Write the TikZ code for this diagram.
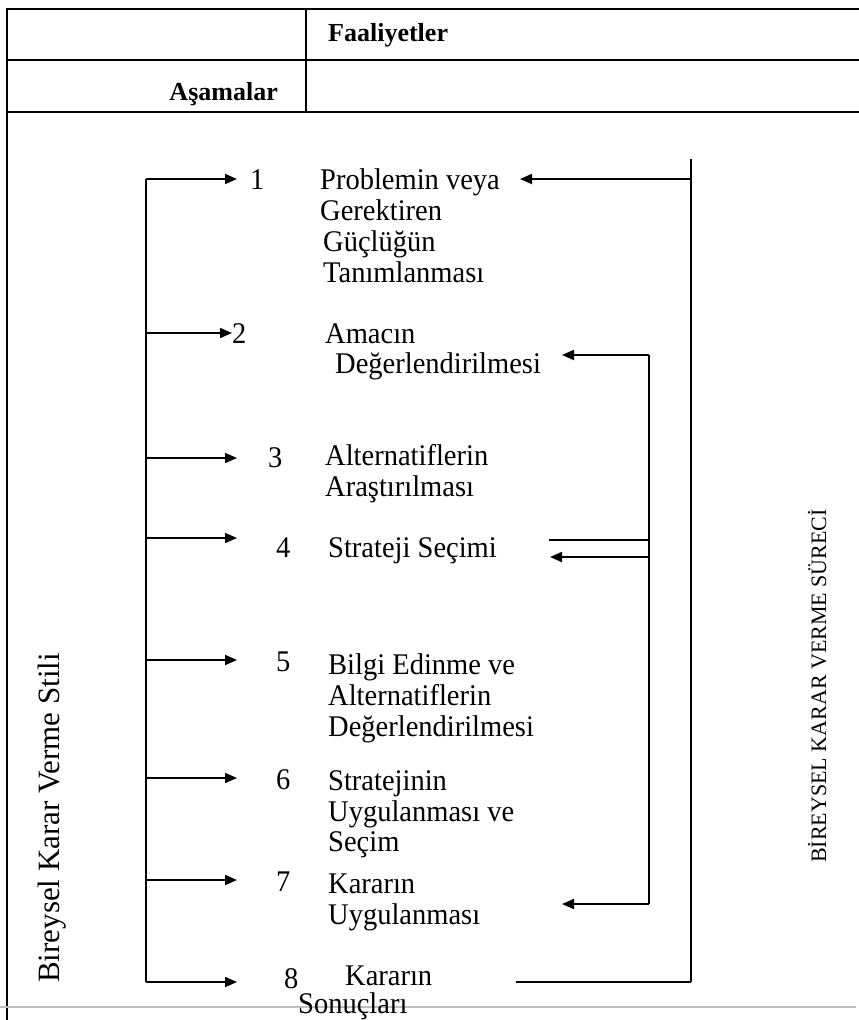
\documentclass[tikz,border=0pt]{standalone}
\usepackage{fontspec}
\setmainfont{Liberation Serif}[FakeStretch=0.95]
\newfontfamily\plainserif{Liberation Serif}
\usetikzlibrary{arrows.meta}
\tikzset{
  rule/.style={line width=1.8pt, black},
  conn/.style={line width=1.8pt, black},
  thinconn/.style={line width=1.3pt, black},
  arr/.style={conn, -{Triangle[length=12pt,width=10pt]}},
  itm/.style={anchor=base west, inner sep=0pt, font=\fontsize{30}{30}\selectfont},
  hdr/.style={inner sep=0pt, font=\plainserif\bfseries\fontsize{26}{26}\selectfont},
}
\begin{document}
\begin{tikzpicture}[x=1pt,y=-1pt]
\useasboundingbox (0,0) rectangle (859,1020);
% table
\coordinate (tl) at (7,9);
\coordinate (tr) at (859,9);
\coordinate (ml) at (7,60);
\coordinate (mr) at (859,60);
\coordinate (bl) at (7,112);
\coordinate (br) at (859,112);
\coordinate (ll) at (7,1020);
\coordinate (dt) at (306,9);
\coordinate (db) at (306,112);
\draw[rule] (tr) -- (tl) -- (ll);
\draw[rule] (ml) -- (mr);
\draw[rule] (bl) -- (br);
\draw[rule] (dt) -- (db);
\coordinate (gl) at (0,1007);
\coordinate (gr) at (856,1007);
\draw[line width=1.2pt, black!25] (gl) -- (gr);
\node[hdr, anchor=base west] (faal) at (328,41) {Faaliyetler};
\node[hdr, anchor=base east] (asam) at (278,100) {Aşamalar};

% numbers
\node[itm] (n1) at (250,189) {1};
\node[itm] (n2) at (232,343) {2};
\node[itm] (n3) at (268,467) {3};
\node[itm] (n4) at (276,557) {4};
\node[itm] (n5) at (276,671) {5};
\node[itm] (n6) at (276,789) {6};
\node[itm] (n7) at (276,891) {7};
\node[itm] (n8) at (284,988) {8};

% texts
\node[itm] (t1a) at (320,189) {Problemin veya};
\node[itm] (t1b) at (320,220) {Gerektiren};
\node[itm] (t1c) at (323,251) {Güçlüğün};
\node[itm] (t1d) at (323,282) {Tanımlanması};
\node[itm] (t2a) at (325,343) {Amacın};
\node[itm] (t2b) at (335,373) {Değerlendirilmesi};
\node[itm] (t3a) at (325,465) {Alternatiflerin};
\node[itm] (t3b) at (325,496) {Araştırılması};
\node[itm] (t4a) at (328,557) {Strateji Seçimi};
\node[itm] (t5a) at (328,674) {Bilgi Edinme ve};
\node[itm] (t5b) at (328,705) {Alternatiflerin};
\node[itm] (t5c) at (328,736) {Değerlendirilmesi};
\node[itm] (t6a) at (328,790) {Stratejinin};
\node[itm] (t6b) at (328,821) {Uygulanması ve};
\node[itm] (t6c) at (328,851) {Seçim};
\node[itm] (t7a) at (328,893) {Kararın};
\node[itm] (t7b) at (328,924) {Uygulanması};
\node[itm] (t8a) at (345,985) {Kararın};
\node[itm] (t8b) at (298,1013) {Sonuçları};

% side labels
\node[inner sep=0pt, rotate=90, font=\plainserif\fontsize{31}{31}\selectfont, anchor=base] (lside) at (59,818) {Bireysel Karar Verme Stili};
\node[inner sep=0pt, rotate=90, font=\plainserif\fontsize{22}{22}\selectfont, anchor=base] (rside) at (826,686) {BİREYSEL KARAR VERME SÜRECİ};

% left bus
\coordinate (L1) at (146,179);
\coordinate (L2) at (146,333);
\coordinate (L3) at (146,458);
\coordinate (L4) at (146,538);
\coordinate (L5) at (146,660);
\coordinate (L6) at (146,778);
\coordinate (L7) at (146,880);
\coordinate (L8) at (146,982);
\draw[conn] (L1) -- (L8);
\draw[arr] (L1) -- (237,179) coordinate (a1);
\draw[arr] (L2) -- (n2.west |- L2);
\draw[arr] (L3) -- (237,458) coordinate (a3);
\draw[arr] (L4) -- (237,538) coordinate (a4);
\draw[arr] (L5) -- (237,660) coordinate (a5);
\draw[arr] (L6) -- (237,778) coordinate (a6);
\draw[arr] (L7) -- (237,880) coordinate (a7);
\draw[arr] (L8) -- (237,982) coordinate (a8);

% outer right loop
\coordinate (R0) at (691,159);
\coordinate (R1) at (691,179);
\coordinate (R8) at (691,982);
\coordinate (E1) at (520,179);
\coordinate (E8) at (516,982);
\draw[conn] (R0) -- (R8);
\draw[arr] (R1) -- (E1);
\draw[conn] (R8) -- (E8);

% inner right loop
\coordinate (I2) at (649,355);
\coordinate (I4a) at (649,540);
\coordinate (I4b) at (649,557);
\coordinate (I7) at (649,904);
\draw[conn] (I2) -- (I7);
\draw[arr] (I2) -- (562,355) coordinate (F2);
\draw[thinconn] (I4a) -- (549,540) coordinate (F4a);
\draw[arr] (I4b) -- (550,557) coordinate (F4b);
\draw[arr] (I7) -- (562,904) coordinate (F7);
\end{tikzpicture}
\end{document}
